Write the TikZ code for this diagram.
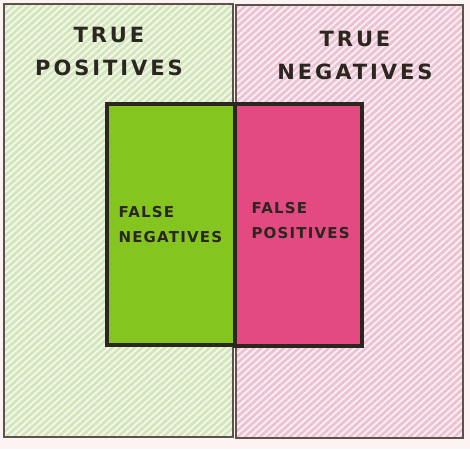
\documentclass[tikz,border=0pt]{standalone}
\usepackage{fontspec}
\setmainfont{DejaVu Sans}
\usetikzlibrary{patterns.meta}
\definecolor{paper}{HTML}{FCF3F3}
\definecolor{tpfill}{HTML}{F3F8EA}
\definecolor{tpline}{HTML}{D3E6BB}
\definecolor{tnfill}{HTML}{FBEFF3}
\definecolor{tnline}{HTML}{ECC2D3}
\definecolor{fngreen}{HTML}{84C51F}
\definecolor{fppink}{HTML}{E24A81}
\definecolor{ink}{HTML}{2B2620}
\definecolor{thinink}{HTML}{5E514E}
\tikzset{
  bigbox/.style={draw=thinink, line width=1.5pt},
  smallbox/.style={draw=ink, line width=3.3pt},
  hatch/.style={pattern={Lines[angle=42,distance=5pt,line width=2.8pt]}, pattern color=#1},
  bigtext/.style={align=center, font=\fontsize{21}{33}\selectfont\bfseries\addfontfeature{LetterSpace=14}, text=ink},
  smalltext/.style={align=left, font=\fontsize{15}{25}\selectfont\bfseries\addfontfeature{LetterSpace=8}, text=ink, anchor=west}
}
\begin{document}
\begin{tikzpicture}[x=1pt,y=-1pt]
  \fill[paper] (0,0) rectangle (470,449);
  \useasboundingbox (0,0) rectangle (470,449);
  % outer boxes
  \fill[tpfill] (4,4) rectangle (233,437);
  \fill[hatch=tpline] (4,4) rectangle (233,437);
  \draw[bigbox] (4,4) rectangle (233,437);
  \fill[tnfill] (236,5) rectangle (463,438);
  \fill[hatch=tnline] (236,5) rectangle (463,438);
  \draw[bigbox] (236,5) rectangle (463,438);
  % inner boxes
  \fill[fngreen] (107,104) rectangle (235,345);
  \fill[fppink] (235,104) rectangle (362,346);
  \draw[smallbox] (107,104) rectangle (235,345);
  \draw[smallbox] (235,104) rectangle (362,346);
  % labels
  \node[bigtext] (tp) at (109,51) {TRUE\\POSITIVES};
  \node[bigtext] (tn) at (355,55) {TRUE\\NEGATIVES};
  \node[smalltext] (fn) at (115,225) {FALSE\\NEGATIVES};
  \node[smalltext] (fp) at (248,221) {FALSE\\POSITIVES};
\end{tikzpicture}
\end{document}
